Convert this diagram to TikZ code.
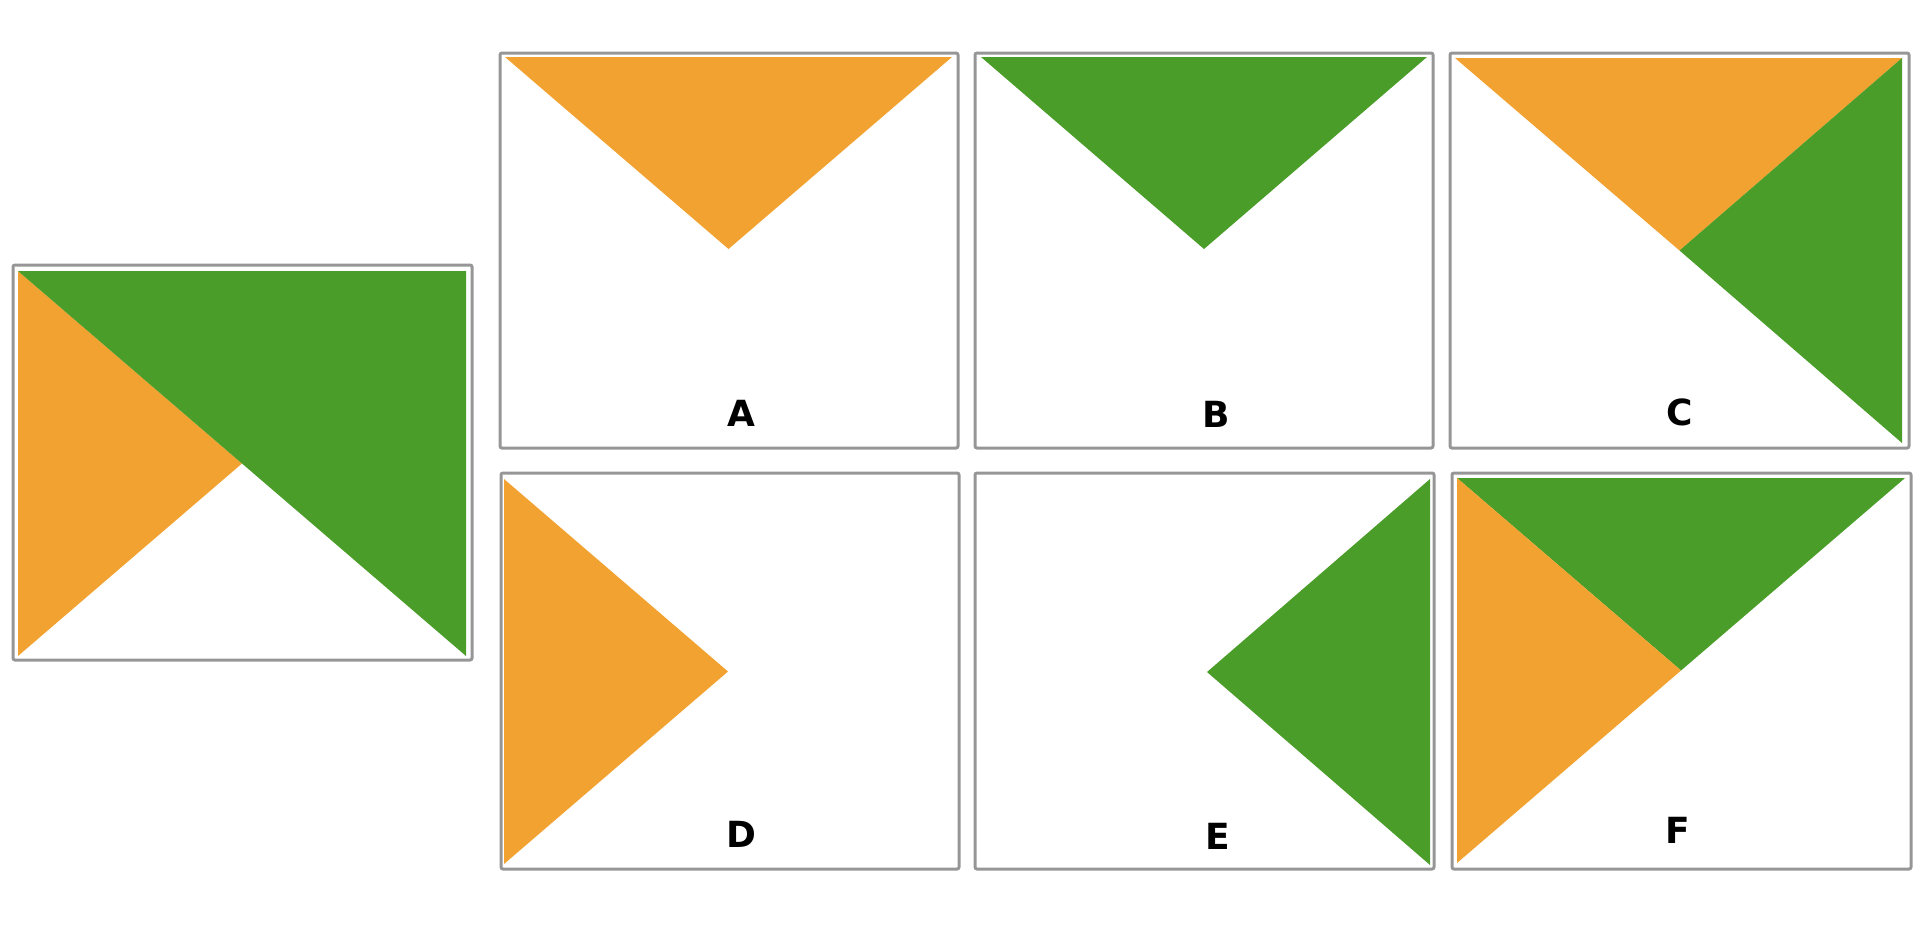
\documentclass[tikz,border=0pt]{standalone}
\usepackage{fontspec}
\setmainfont{DejaVu Sans}
\definecolor{tOrange}{RGB}{242,162,48}
\definecolor{tGreen}{RGB}{74,157,40}
\definecolor{frameGray}{RGB}{150,150,150}
\tikzset{
  frame/.style={draw=frameGray, line width=1.5pt, rounded corners=1pt},
  orangefill/.style={fill=tOrange},
  greenfill/.style={fill=tGreen},
  lbl/.style={font=\fontsize{18pt}{20pt}\selectfont\bfseries, anchor=base, inner sep=0pt}
}
\begin{document}
\begin{tikzpicture}[x=0.5pt,y=-0.5pt]
\useasboundingbox (0,0) rectangle (1920,926);
% main panel
\fill[orangefill] (18,271) -- (242,463.5) -- (18,656) -- cycle;
\fill[greenfill] (18,271) -- (466,271) -- (466,656) -- (242,463.5) -- cycle;
\draw[frame] (13,265) rectangle (472,660);
% A
\fill[orangefill] (505,57) -- (952,57) -- (728.5,249) -- cycle;
\draw[frame] (500,53) rectangle (958,448);
\node[lbl] (la) at (741,426) {A};
% B
\fill[greenfill] (981,57) -- (1427,57) -- (1204,249) -- cycle;
\draw[frame] (975,53) rectangle (1433,448);
\node[lbl] (lb) at (1216,427) {B};
% C
\fill[orangefill] (1455,58) -- (1902,58) -- (1679.5,250.5) -- cycle;
\fill[greenfill] (1902,58) -- (1902,443) -- (1679.5,250.5) -- cycle;
\draw[frame] (1450,53) rectangle (1909,448);
\node[lbl] (lc) at (1680,425) {C};
% D
\fill[orangefill] (504,479) -- (728,671.5) -- (504,864) -- cycle;
\draw[frame] (501,473) rectangle (959,869);
\node[lbl] (ld) at (741,847) {D};
% E
\fill[greenfill] (1430,479) -- (1430,865) -- (1207,672) -- cycle;
\draw[frame] (975,473) rectangle (1434,869);
\node[lbl] (le) at (1218,849) {E};
% F
\fill[greenfill] (1457,478) -- (1905,478) -- (1681,670.5) -- cycle;
\fill[orangefill] (1457,478) -- (1681,670.5) -- (1457,863) -- cycle;
\draw[frame] (1452,473) rectangle (1911,869);
\node[lbl] (lf) at (1678,843) {F};
\end{tikzpicture}
\end{document}
